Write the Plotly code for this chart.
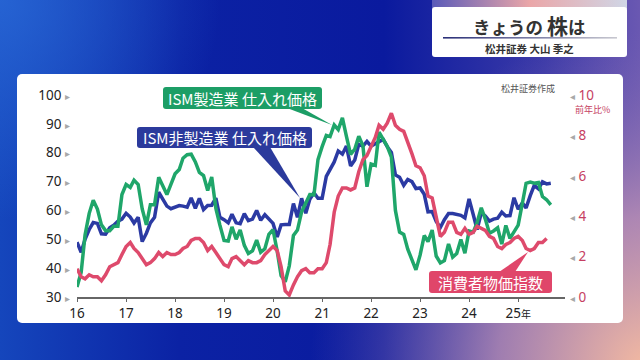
import base64
import pandas as pd
import plotly.graph_objects as go

# ---------------- data ----------------
ism_mfg_prices = [
    33.5, 38.5, 51.5, 59.0, 63.5, 60.5, 55.0, 53.0, 53.0, 54.5, 54.5, 65.5,
    69.0, 68.0, 70.5, 69.0, 60.5, 55.0, 62.0, 62.0, 71.5, 68.5, 65.5, 69.0,
    72.7, 74.2, 78.1, 79.3, 79.5, 76.8, 73.2, 72.1, 66.9, 71.6, 60.7, 54.9,
    49.6, 49.4, 54.3, 50.0, 53.2, 47.9, 45.1, 46.0, 49.7, 45.5, 46.7, 51.7,
    53.3, 45.9, 37.4, 35.3, 40.8, 51.3, 53.2, 59.5, 62.8, 65.5, 65.4, 77.6,
    82.1, 86.0, 85.6, 89.6, 88.0, 92.1, 85.7, 79.4, 81.2, 85.7, 82.4, 68.2,
    76.1, 75.6, 87.1, 84.6, 82.2, 78.5, 60.0, 52.5, 51.7, 46.6, 43.0, 39.4,
    44.5, 51.3, 49.2, 53.2, 44.2, 41.8, 42.6, 48.4, 43.8, 45.1, 49.9, 45.2,
    52.9, 52.5, 55.8, 60.9, 57.0, 52.1, 52.9, 54.0, 48.3, 54.8, 50.3, 52.5,
    54.9, 62.4, 69.4, 69.8, 69.4, 69.7, 64.8, 63.7, 61.9,
]
ism_svc_prices = [
    49.0, 45.5, 50.0, 53.4, 55.8, 55.5, 51.9, 51.8, 54.0, 54.9, 56.3, 57.0,
    59.0, 57.7, 55.6, 57.6, 49.2, 52.1, 55.7, 57.6, 66.3, 64.2, 61.5, 60.6,
    61.0, 61.7, 61.5, 61.1, 64.3, 60.7, 64.2, 60.3, 61.7, 61.8, 64.3, 57.6,
    56.8, 55.7, 58.7, 55.7, 55.4, 58.9, 56.5, 57.0, 60.0, 56.6, 58.5, 56.9,
    55.5, 50.8, 55.0, 55.1, 55.1, 62.4, 57.6, 64.2, 59.0, 63.9, 66.1, 64.2,
    64.2, 71.8, 74.0, 76.8, 80.6, 79.5, 82.3, 75.4, 77.5, 82.9, 82.3, 83.9,
    82.3, 83.1, 83.8, 84.6, 82.1, 80.1, 72.3, 71.5, 68.7, 70.7, 70.0, 67.6,
    67.8, 65.6, 59.5, 59.6, 56.2, 54.1, 56.8, 58.9, 58.9, 58.6, 58.3, 57.4,
    64.0, 58.6, 53.4, 59.2, 58.1, 56.3, 57.0, 57.3, 59.4, 58.1, 58.2, 64.4,
    60.4, 62.6, 60.9, 65.1, 68.7, 67.5, 69.9, 69.2, 69.4,
]
cpi_yoy = [
    1.4, 1.0, 0.9, 1.1, 1.0, 1.0, 0.8, 1.1, 1.5, 1.6, 1.7, 2.1,
    2.5, 2.7, 2.4, 2.2, 1.9, 1.6, 1.7, 1.9, 2.2, 2.0, 2.2, 2.1,
    2.1, 2.2, 2.4, 2.5, 2.8, 2.9, 2.9, 2.7, 2.3, 2.5, 2.2, 1.9,
    1.6, 1.5, 1.9, 2.0, 1.8, 1.6, 1.8, 1.7, 1.7, 1.8, 2.1, 2.3,
    2.5, 2.3, 1.5, 0.3, 0.1, 0.6, 1.0, 1.3, 1.4, 1.2, 1.2, 1.4,
    1.4, 1.7, 2.6, 4.2, 5.0, 5.4, 5.4, 5.3, 5.4, 6.2, 6.8, 7.0,
    7.5, 7.9, 8.5, 8.3, 8.6, 9.1, 8.5, 8.3, 8.2, 7.7, 7.1, 6.5,
    6.4, 6.0, 5.0, 4.9, 4.0, 3.0, 3.2, 3.7, 3.7, 3.2, 3.1, 3.4,
    3.1, 3.2, 3.5, 3.4, 3.3, 3.0, 2.9, 2.5, 2.4, 2.6, 2.7, 2.9,
    3.0, 2.8, 2.4, 2.3, 2.4, 2.7, 2.7, 2.9,
]
year_ticks = [f"{y}-01-01" for y in range(2016, 2026)]
year_labels = ["16", "17", "18", "19", "20", "21", "22", "23", "24", "25"]
left_ticks = [30, 40, 50, 60, 70, 80, 90, 100]
right_ticks = [0, 2, 4, 6, 8, 10]

months_ism = pd.date_range("2016-01-01", periods=len(ism_mfg_prices), freq="MS")
months_cpi = pd.date_range("2016-01-01", periods=len(cpi_yoy), freq="MS")

# ---------------- geometry helpers (pixel -> paper) ----------------
W_FIG, H_FIG = 640, 360
L, R, T, B = 77, 565, 95, 297
PW, PH = R - L, B - T


def px(x):
    return (x - L) / PW


def py(y):
    return (B - y) / PH


def rrect_path(x0, y0, x1, y1, r):
    a, b, c, d = px(x0), px(x1), py(y0), py(y1)
    rx, ry = r / PW, r / PH
    return (f"M{a+rx},{c} L{b-rx},{c} Q{b},{c} {b},{c-ry} L{b},{d+ry} Q{b},{d} {b-rx},{d} "
            f"L{a+rx},{d} Q{a},{d} {a},{d+ry} L{a},{c-ry} Q{a},{c} {a+rx},{c} Z")


def tri_path(pts):
    return "M" + " L".join(f"{px(x)},{py(y)}" for x, y in pts) + " Z"


# ---------------- background (decorative svg) ----------------
svg = """<svg xmlns='http://www.w3.org/2000/svg' width='640' height='360' viewBox='0 0 640 360'>
<defs>
<linearGradient id='a' x1='0' y1='0' x2='1' y2='0'>
<stop offset='0' stop-color='#1546bc'/><stop offset='0.28' stop-color='#0b22a4'/>
<stop offset='0.6' stop-color='#0a1a9e'/><stop offset='0.85' stop-color='#3c3aa8'/>
<stop offset='1' stop-color='#6a58b2'/></linearGradient>
<radialGradient id='b' cx='650' cy='370' r='340' gradientUnits='userSpaceOnUse'>
<stop offset='0' stop-color='#f6bca0' stop-opacity='1'/>
<stop offset='0.45' stop-color='#c496b4' stop-opacity='0.75'/>
<stop offset='1' stop-color='#7a66b2' stop-opacity='0'/></radialGradient>
<radialGradient id='c' cx='0' cy='0' r='220' gradientUnits='userSpaceOnUse'>
<stop offset='0' stop-color='#2a6ad8' stop-opacity='0.8'/>
<stop offset='1' stop-color='#2a6ad8' stop-opacity='0'/></radialGradient>
<linearGradient id='d' x1='0' y1='0' x2='1' y2='0'>
<stop offset='0' stop-color='#5a5ab8'/><stop offset='0.5' stop-color='#eaa6a8'/>
<stop offset='1' stop-color='#d0d6e6'/></linearGradient>
<linearGradient id='e' x1='0' y1='0' x2='1' y2='0'>
<stop offset='0' stop-color='#2a2f78'/><stop offset='1' stop-color='#c8c8d0'/></linearGradient>
</defs>
<rect width='640' height='360' fill='url(#a)'/>
<rect width='640' height='360' fill='url(#b)'/>
<rect width='640' height='360' fill='url(#c)'/>
<rect x='432' y='0' width='195' height='9' fill='url(#d)'/>
<rect x='432' y='7' width='195' height='50' rx='3' fill='#ffffff'/>
<rect x='443' y='37' width='174' height='1.6' fill='url(#e)'/>
<rect x='17' y='74' width='606' height='249' rx='5' fill='#ffffff'/>
</svg>"""
svg_uri = "data:image/svg+xml;base64," + base64.b64encode(svg.encode("utf-8")).decode("ascii")

GREEN = "#1fa66a"
BLUE = "#2b3aa3"
RED = "#de4a6c"
NUM_FONT = "Noto Sans, Noto Sans CJK JP, sans-serif"
JP_FONT = "Noto Sans CJK JP, Noto Sans, sans-serif"

fig = go.Figure()
fig.add_trace(go.Scatter(x=months_cpi, y=cpi_yoy, yaxis="y2", mode="lines",
                         line=dict(color=RED, width=3.5), name="消費者物価指数"))
fig.add_trace(go.Scatter(x=months_ism, y=ism_svc_prices, mode="lines",
                         line=dict(color=BLUE, width=3.5), name="ISM非製造業 仕入れ価格"))
fig.add_trace(go.Scatter(x=months_ism, y=ism_mfg_prices, mode="lines",
                         line=dict(color=GREEN, width=3.5), name="ISM製造業 仕入れ価格"))

tri_l = '<span style="color:#a8a8a8;font-size:10px">▸</span>'
tri_r = '<span style="color:#a8a8a8;font-size:10px">◂</span>'
xlabels = year_labels[:-1] + [year_labels[-1] + '<span style="font-size:10px">年</span>']

fig.update_layout(
    width=W_FIG, height=H_FIG,
    margin=dict(l=L, r=W_FIG - R, t=T, b=H_FIG - B, pad=0),
    paper_bgcolor="#0a1a9e", plot_bgcolor="rgba(0,0,0,0)",
    showlegend=False,
    xaxis=dict(range=["2016-01-01", "2025-12-16"], tickvals=year_ticks, ticktext=xlabels,
               showgrid=False, zeroline=False, showline=True, linecolor="#666", linewidth=1.5,
               ticks="outside", ticklen=3, tickcolor="#666", tickwidth=1,
               tickfont=dict(family=NUM_FONT, size=13.5, color="#222")),
    yaxis=dict(range=[30, 100], tickvals=left_ticks,
               ticktext=[f"{v} {tri_l}" for v in left_ticks],
               showgrid=False, zeroline=False, showline=False, ticks="",
               ticklabelstandoff=6,
               tickfont=dict(family=NUM_FONT, size=13.5, color="#222")),
    yaxis2=dict(range=[0, 10], overlaying="y", side="right", tickvals=right_ticks,
                ticktext=[f"{tri_r} {v}" for v in right_ticks],
                showgrid=False, zeroline=False, showline=False, ticks="",
                ticklabelstandoff=4,
                tickfont=dict(family=NUM_FONT, size=13.5, color="#c63e62")),
    images=[dict(source=svg_uri, xref="paper", yref="paper", x=px(0), y=py(0),
                 sizex=W_FIG / PW, sizey=H_FIG / PH, xanchor="left", yanchor="top",
                 sizing="stretch", layer="below")],
)

shapes = [
    dict(type="path", path=rrect_path(163, 87, 322, 109, 3), fillcolor="#1c9e66", line_width=0),
    dict(type="path", path=tri_path([(287, 108), (302, 108), (332, 125)]), fillcolor="#1c9e66", line_width=0),
    dict(type="path", path=rrect_path(137, 127, 312, 148, 3), fillcolor="#2b3a9c", line_width=0),
    dict(type="path", path=tri_path([(253, 147), (270, 147), (300, 198)]), fillcolor="#2b3a9c", line_width=0),
    dict(type="path", path=rrect_path(429, 271, 552, 293, 3), fillcolor="#e0466a", line_width=0),
    dict(type="path", path=tri_path([(499, 272), (515, 272), (528, 252)]), fillcolor="#e0466a", line_width=0),
]
for s in shapes:
    s.update(xref="paper", yref="paper", layer="above")
fig.update_layout(shapes=shapes)


def ann(text, x, y, size, color, family=JP_FONT, xanchor="center"):
    fig.add_annotation(text=text, xref="paper", yref="paper", x=px(x), y=py(y),
                       xanchor=xanchor, yanchor="middle", showarrow=False,
                       font=dict(family=family, size=size, color=color))


ann("ISM製造業 仕入れ価格", 242.5, 98, 15, "white")
ann("ISM非製造業 仕入れ価格", 224.5, 137.5, 15, "white")
ann("消費者物価指数", 490.5, 282, 15, "white")
ann('<b>きょうの <span style="font-size:21px">株</span>は</b>', 529, 25, 17.5, "#333")
ann("<b>松井証券 大山 季之</b>", 529, 48.5, 10.5, "#333")
ann("松井証券作成", 527.5, 88, 9, "#555")
ann("前年比%", 592.5, 110, 9, "#c63e62")

fig.write_html("out.html")
